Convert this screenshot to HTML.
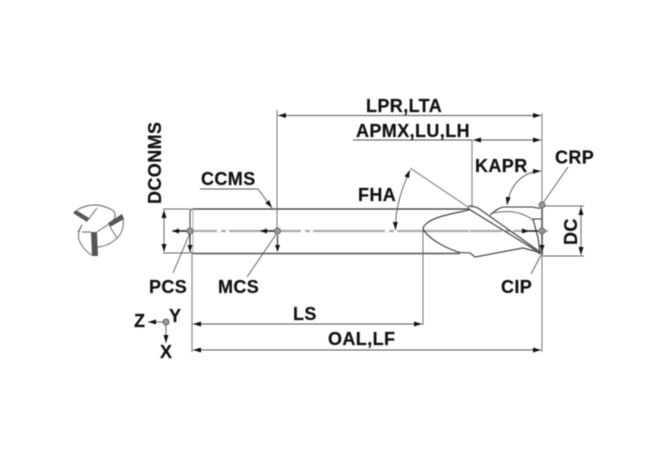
<!DOCTYPE html>
<html><head><meta charset="utf-8"><style>
html,body{margin:0;padding:0;background:#fff}
svg{display:block;filter:blur(.45px)}
text{font-family:"Liberation Sans",sans-serif;font-weight:bold;font-size:18px;letter-spacing:.4px;fill:#111;stroke:#111;stroke-width:.2px}
</style></head><body>
<svg width="670" height="460" viewBox="0 0 670 460" xmlns="http://www.w3.org/2000/svg">
<defs>
<marker id="a" viewBox="0 0 8 6" refX="8" refY="3" markerWidth="8" markerHeight="6" markerUnits="userSpaceOnUse" orient="auto-start-reverse"><path d="M0 .5L8 3L0 5.500z" fill="#111"/></marker>
</defs>
<!-- end view -->
<g fill="none" stroke="#666" stroke-width="1">
<path d="M77 210Q93 201 108 208Q120 212 112 222"/>
<path d="M123 218Q125 232 115 240Q106 247 97 247"/>
<path d="M92 255Q83 250 79 240Q77 233 82 225"/>
<path d="M82 225L78 232M82 232H91M88 220L97 208M97 232L109 224M110 227L117 238"/>
</g>
<g fill="#555">
<path d="M73 213L76 210L89 218L87 222z"/>
<path d="M108 223L122 214L124 219L110 227z"/>
<path d="M91 232H97L98 256H92z"/>
</g>
<!-- shank -->
<g fill="none">
<path d="M193 209H470" stroke="#333" stroke-width="1.200"/>
<path d="M193 253.500H460" stroke="#666" stroke-width="1.800"/>
<path d="M193 209Q190 209 190 212V250Q190 253 193 253" stroke="#333" stroke-width="1"/>
<path d="M193 209V253" stroke="#aaa" stroke-width="1"/>
</g>
<path d="M172 231H470" stroke="#aaa" stroke-width="2.200" stroke-dasharray="72 4 5 3" stroke-dashoffset="27"/>
<path d="M470 231H548" stroke="#aaa" stroke-width="2.200" stroke-dasharray="32 3 5 3 60" />
<!-- flute head -->
<g fill="none" stroke="#333" stroke-width="1.100">
<path d="M469 210C450 214 433 217 426 224Q421 228 425 232C432 241 448 249 460 252.500L470 253L475 257L523 248L538 252"/>
<path d="M468 207.500Q469 205.500 472 206L478 208L543 254"/>
<path d="M468 208.500L532 248L540 254"/>
<path d="M490 215C496 210 500 207 505 207H532L540 208.500"/>
<path d="M493 213Q517 208 533 220" stroke="#777"/>
<path d="M533 219H541M533 219L538 238L540 253" />
<path d="M542 207V255" stroke-width="1.600"/>
</g>
<!-- extension lines -->
<g fill="none" stroke="#666" stroke-width=".9">
<path d="M163 209H190M163 253H190"/>
<path d="M277 110V231"/>
<path d="M472 140V208"/>
<path d="M542 113V352"/>
<path d="M192 253V352"/>
<path d="M423 230V325"/>
<path d="M543 206H584M543 256H584"/>
<path d="M410 168L468 207"/>
</g>
<!-- dimensions -->
<g fill="none" stroke="#555" stroke-width=".9" marker-start="url(#a)" marker-end="url(#a)">
<path d="M278 115.500H541"/>
<path d="M473 140H541"/>
<path d="M193 324H422"/>
<path d="M193 350H541"/>
<path d="M164 210V252"/>
<path d="M581 207V255"/>
<path d="M410 170C402 188 395 208 395.500 230"/>
<path d="M507 205C510 185 522 172 541 171"/>
</g>
<path d="M353 140H472" stroke="#555" stroke-width=".9"/>
<g fill="none" stroke="#555" stroke-width=".9">
<path d="M200 189H258L272 208" marker-end="url(#a)"/>
<path d="M173 273L190 233M247 277L277 233M568 167L543 203M531 274L541 255"/>
</g>
<g fill="#111">
<path d="M172 231L179 228.500V233.500z"/>
<path d="M260 231L267 228.500V233.500z"/>
<path d="M190 252L187.500 245H192.500z"/>
<path d="M277.500 252L275 245H280z"/>
<path d="M529 231L522 228.500V233.500z"/>
<path d="M542 252L539.500 245H544.500z"/>
</g>
<g stroke="#111" stroke-width="1" fill="none"><path d="M179 231H187M267 231H275M190 245V235M277.500 245V235M522 231H538"/></g>
<!-- points -->
<g fill="#999" stroke="#666" stroke-width="1">
<circle cx="190" cy="231" r="3"/><circle cx="277.500" cy="231" r="3"/>
<circle cx="542" cy="231" r="3"/><circle cx="542" cy="205" r="3"/>
<circle cx="166" cy="322" r="3"/>
</g>
<!-- axes -->
<g fill="none" stroke="#555" stroke-width=".9" marker-end="url(#a)">
<path d="M163 322H148"/><path d="M166 325V343"/>
</g>
<!-- labels -->
<text x="366" y="112">LPR,LTA</text>
<text x="356" y="137">APMX,LU,LH</text>
<text x="475" y="172">KAPR</text>
<text x="555" y="163.500">CRP</text>
<text x="201" y="185">CCMS</text>
<text x="358" y="201">FHA</text>
<text x="149" y="293">PCS</text>
<text x="218" y="293">MCS</text>
<text x="501" y="293">CIP</text>
<text x="293" y="320">LS</text>
<text x="328" y="345">OAL,LF</text>
<text x="134" y="327">Z</text>
<text x="169" y="322">Y</text>
<text x="160" y="358">X</text>
<text transform="translate(161,204) rotate(-90)">DCONMS</text>
<text transform="translate(577,245) rotate(-90)">DC</text>
</svg>
</body></html>
